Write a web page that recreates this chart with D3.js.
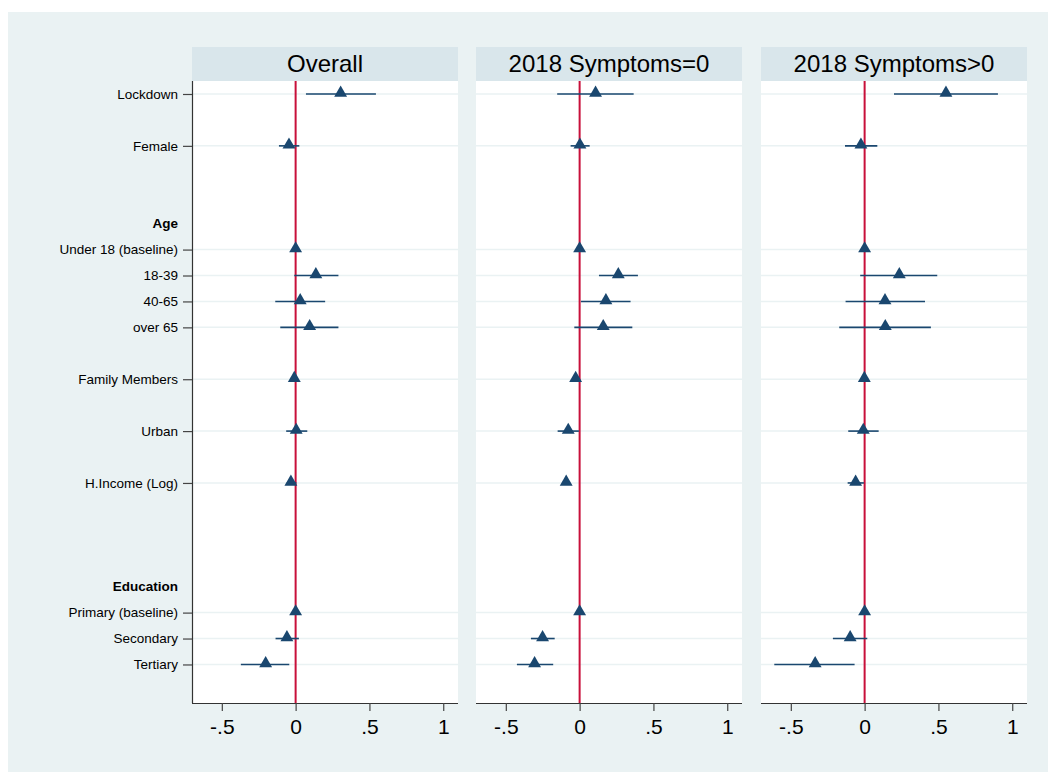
<!DOCTYPE html>
<html><head><meta charset="utf-8">
<script src="https://cdn.jsdelivr.net/npm/d3@7"></script>
<style>body{margin:0;background:#fff}svg{display:block}</style>
</head><body>
<svg id="c" width="1050" height="772"></svg>
<script>
// ---- data ----
const rowLabels = ["Lockdown","Female","Under 18 (baseline)","18-39","40-65","over 65","Family Members","Urban","H.Income (Log)","Primary (baseline)","Secondary","Tertiary"];
const rowPos    = [0,2,6,7,8,9,11,13,15,20,21,22];
const groupLabels = ["Age","Education"];
const groupPos    = [5,19];
const panelTitles = ["Overall","2018 Symptoms=0","2018 Symptoms>0"];
const xTicks = [-0.5,0,0.5,1];
const xTickLabels = ["-.5","0",".5","1"];

const coefOverall = [0.305,-0.045,0,0.137,0.031,0.095,-0.009,0.004,-0.032,0,-0.059,-0.203];
const loOverall   = [0.07,-0.113,0,-0.009,-0.138,-0.104,-0.02,-0.064,-0.06,0,-0.136,-0.371];
const hiOverall   = [0.544,0.025,0,0.29,0.20,0.29,0.003,0.079,0.005,0,0.022,-0.043];

const coefSym0 = [0.108,0.002,0,0.262,0.178,0.160,-0.027,-0.077,-0.091,0,-0.251,-0.305];
const loSym0   = [-0.152,-0.061,0,0.131,0.009,-0.036,-0.035,-0.149,-0.115,0,-0.33,-0.425];
const hiSym0   = [0.366,0.068,0,0.395,0.345,0.357,-0.02,-0.005,-0.065,0,-0.169,-0.179];

const coefSym1 = [0.551,-0.025,0,0.235,0.138,0.14,-0.002,-0.009,-0.061,0,-0.098,-0.335];
const loSym1   = [0.199,-0.133,0,-0.03,-0.129,-0.172,-0.01,-0.111,-0.115,0,-0.215,-0.612];
const hiSym1   = [0.903,0.086,0,0.492,0.409,0.449,0.006,0.095,-0.005,0,0.018,-0.068];

const panelCoef = [coefOverall,coefSym0,coefSym1];
const panelLo = [loOverall,loSym0,loSym1];
const panelHi = [hiOverall,hiSym0,hiSym1];

// ---- layout ----
const svg = d3.select("#c");
const font = "'Liberation Sans', Arial, Helvetica, sans-serif";
const navy = "#1a476f", red = "#c8103a";
svg.append("rect").attr("x",8).attr("y",12).attr("width",1040).attr("height",760).attr("fill","#eaf2f3");

const panelX = [192,476,761];
const panelW = 266;
const plotTop = 81, plotBottom = 703, headerTop = 47;

const y = d3.scaleLinear().domain([-0.501,23.486]).range([plotTop,plotBottom]);

panelTitles.forEach((title,p)=>{
  const x0 = panelX[p];
  const x = d3.scaleLinear().domain([-0.702,1.1]).range([x0,x0+panelW]);
  const g = svg.append("g");
  // header
  g.append("rect").attr("x",x0).attr("y",headerTop).attr("width",panelW).attr("height",plotTop-headerTop).attr("fill","#d9e6eb");
  g.append("text").attr("x",x0+panelW/2).attr("y",72).attr("text-anchor","middle")
    .attr("font-family",font).attr("font-size",24).attr("fill","#000").text(title);
  // plot bg
  g.append("rect").attr("x",x0).attr("y",plotTop).attr("width",panelW).attr("height",plotBottom-plotTop).attr("fill","#fff");
  // gridlines
  g.selectAll("line.grid").data(rowPos).join("line").attr("class","grid")
    .attr("x1",x0).attr("x2",x0+panelW).attr("y1",d=>y(d)).attr("y2",d=>y(d))
    .attr("stroke","#eaf2f3").attr("stroke-width",1.5);
  // red zero line
  g.append("line").attr("x1",x(0)).attr("x2",x(0)).attr("y1",plotTop).attr("y2",plotBottom)
    .attr("stroke",red).attr("stroke-width",2);
  // CIs
  const coef = panelCoef[p], lo = panelLo[p], hi = panelHi[p];
  g.selectAll("line.ci").data(rowPos).join("line").attr("class","ci")
    .attr("x1",(d,i)=>x(lo[i])).attr("x2",(d,i)=>x(hi[i]))
    .attr("y1",d=>y(d)).attr("y2",d=>y(d))
    .attr("stroke",navy).attr("stroke-width",1.6);
  // markers
  const tri = d3.symbol(d3.symbolTriangle,72);
  g.selectAll("path.pt").data(rowPos).join("path").attr("class","pt")
    .attr("d",tri).attr("transform",(d,i)=>`translate(${x(coef[i])},${y(d)-1})`)
    .attr("fill",navy);
  // x axis
  const ax = g.append("g").attr("transform",`translate(0,${plotBottom})`)
    .call(d3.axisBottom(x).tickValues(xTicks).tickFormat((d,i)=>xTickLabels[i]).tickSize(8).tickPadding(8));
  ax.select(".domain").attr("stroke","#333").attr("stroke-width",1.2).attr("d",`M${x0},0.5H${x0+panelW}`);
  ax.selectAll(".tick line").attr("stroke","#444").attr("stroke-width",1.2);
  ax.selectAll(".tick text").attr("font-family",font).attr("font-size",21).attr("fill","#000");

  if(p===0){
    const ay = svg.append("g").attr("transform",`translate(${x0},0)`)
      .call(d3.axisLeft(y).tickValues(rowPos).tickFormat((d,i)=>rowLabels[i]).tickSize(9).tickPadding(5));
    ay.select(".domain").attr("stroke","#333").attr("stroke-width",1.2).attr("d",`M0.5,${plotTop}V${plotBottom}`);
    ay.selectAll(".tick line").attr("stroke","#444").attr("stroke-width",1.2);
    ay.selectAll(".tick text").attr("font-family",font).attr("font-size",13.5).attr("fill","#000");
    svg.selectAll("text.grp").data(groupPos).join("text").attr("class","grp")
      .attr("x",x0-14).attr("y",d=>y(d)).attr("dy","0.32em").attr("text-anchor","end")
      .attr("font-family",font).attr("font-size",13.5).attr("font-weight","bold").attr("fill","#000")
      .text((d,i)=>groupLabels[i]);
  }
});
</script>
</body></html>
